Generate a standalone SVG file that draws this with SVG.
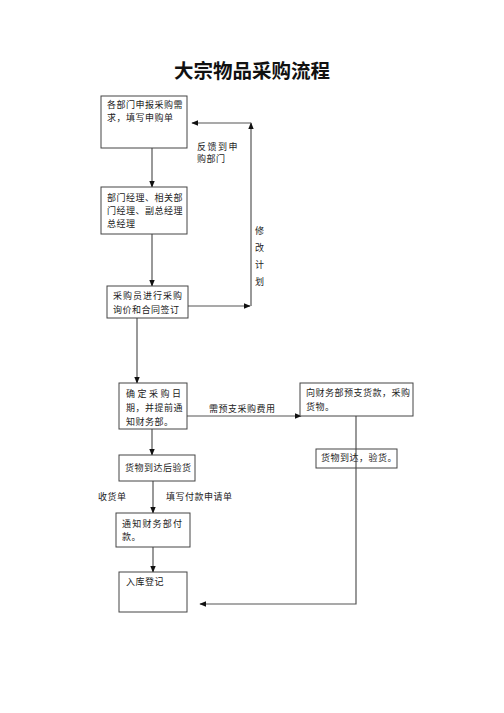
<svg xmlns="http://www.w3.org/2000/svg" width="504" height="713" viewBox="0 0 504 713">
<style>
.box{fill:#fff;stroke:#444;stroke-width:1}
.t{font-family:"Noto Sans CJK SC","Liberation Serif",serif;font-size:9px;fill:#222;letter-spacing:0.5px}
.c{fill:none;stroke:#555;stroke-width:1.2}
.title{font-family:"Noto Sans CJK SC",sans-serif;font-size:19.5px;font-weight:bold;fill:#111}
</style>
<defs>
<marker id="ah" viewBox="0 0 10 10" refX="9" refY="5" markerWidth="7" markerHeight="7" markerUnits="userSpaceOnUse" orient="auto">
<path d="M0,1 L10,5 L0,9 z" fill="#111"/>
</marker>
</defs>
<rect width="504" height="713" fill="#fff"/>
<text class="title" x="252" y="78" text-anchor="middle">大宗物品采购流程</text>

<g id="connectors">
<line class="c" x1="152" y1="148" x2="152" y2="187" marker-end="url(#ah)"/>
<line class="c" x1="152" y1="234" x2="152" y2="286" marker-end="url(#ah)"/>
<polyline class="c" points="188,306 250,306" marker-end="url(#ah)"/>
<polyline class="c" points="251,306 251,123" marker-end="url(#ah)"/>
<line class="c" x1="251" y1="123" x2="192" y2="123" marker-end="url(#ah)"/>
<line class="c" x1="137" y1="318" x2="137" y2="383" marker-end="url(#ah)"/>
<line class="c" x1="187" y1="416" x2="301" y2="416" marker-end="url(#ah)"/>
<line class="c" x1="152" y1="429" x2="152" y2="455" marker-end="url(#ah)"/>
<line class="c" x1="153" y1="481" x2="153" y2="513" marker-end="url(#ah)"/>
<line class="c" x1="153" y1="547" x2="153" y2="572" marker-end="url(#ah)"/>
<polyline class="c" points="356,416 356,604 200,604" marker-end="url(#ah)"/>
</g>

<g id="n1"><rect class="box" x="101" y="96" width="86" height="52"/>
<text class="t" x="107" y="108">各部门申报采购需</text><text class="t" x="107" y="121">求，填写申购单</text></g>
<g id="lbl-feedback"><text class="t" x="197" y="150" style="letter-spacing:1.5px">反馈到申</text><text class="t" x="197" y="162">购部门</text></g>
<g id="lbl-modify"><text class="t" x="255" y="234">修</text><text class="t" x="255" y="251">改</text><text class="t" x="255" y="268">计</text><text class="t" x="255" y="285">划</text></g>
<g id="n2"><rect class="box" x="101" y="187" width="86" height="47"/>
<text class="t" x="107" y="201">部门经理、相关部</text><text class="t" x="107" y="214">门经理、副总经理</text><text class="t" x="107" y="227">总经理</text></g>
<g id="n3"><rect class="box" x="107" y="286" width="81" height="32"/>
<text class="t" x="113" y="299" style="letter-spacing:1px">采购员进行采购</text><text class="t" x="113" y="313">询价和合同签订</text></g>
<g id="n4"><rect class="box" x="119" y="383" width="68" height="46"/>
<text class="t" x="126" y="397" style="letter-spacing:2.5px">确定采购日</text><text class="t" x="126" y="411">期，并提前通</text><text class="t" x="126" y="425">知财务部。</text></g>
<g id="lbl-prepay"><text class="t" x="209" y="412">需预支采购费用</text></g>
<g id="n5"><rect class="box" x="300" y="383" width="113" height="33"/>
<text class="t" x="306" y="396">向财务部预支货款，采购</text><text class="t" x="306" y="410">货物。</text></g>
<g id="n6"><rect class="box" x="316" y="449" width="81" height="19" style="fill:none"/>
<text class="t" x="321" y="461">货物到达，验货。</text></g>
<g id="n7"><rect class="box" x="119" y="455" width="76" height="26"/>
<text class="t" x="125" y="471">货物到达后验货</text></g>
<g id="lbl-receipt"><text class="t" x="98" y="500">收货单</text></g>
<g id="lbl-payreq"><text class="t" x="166" y="500">填写付款申请单</text></g>
<g id="n8"><rect class="box" x="116" y="513" width="74" height="34"/>
<text class="t" x="122" y="527" style="letter-spacing:1.2px">通知财务部付</text><text class="t" x="122" y="540">款。</text></g>
<g id="n9"><rect class="box" x="119" y="572" width="68" height="40"/>
<text class="t" x="126" y="585">入库登记</text></g>
</svg>
